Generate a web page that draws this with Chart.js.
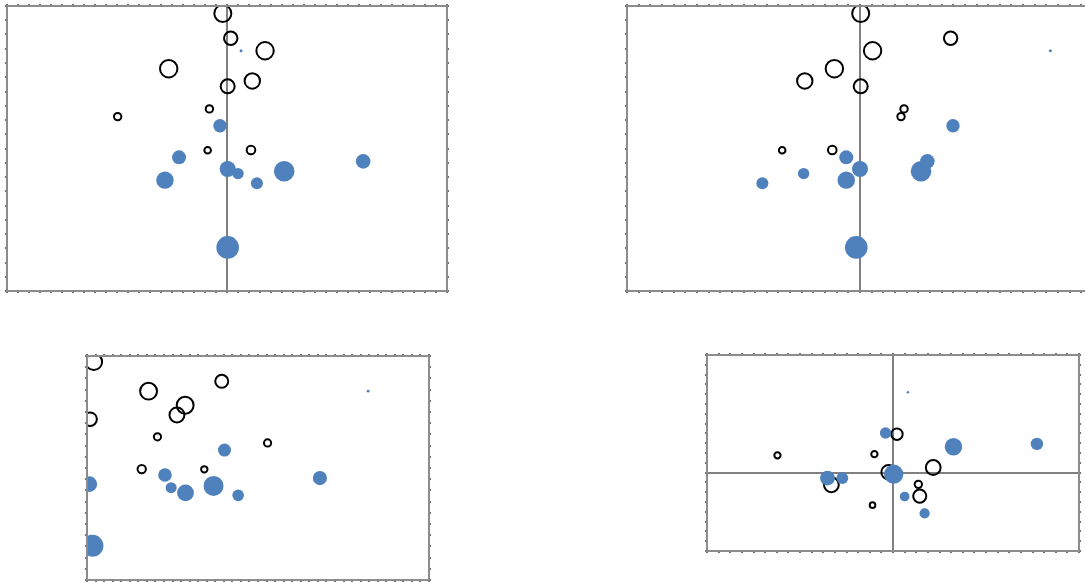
<!DOCTYPE html>
<html>
<head>
<meta charset="utf-8">
<script src="https://cdn.jsdelivr.net/npm/chart.js@4.4.1/dist/chart.umd.min.js"></script>
<style>
  html, body { margin: 0; padding: 0; background: #fff; overflow: hidden; }
  body { width: 1085px; height: 582px; position: relative; }
  canvas { position: absolute; }
</style>
</head>
<body>
<canvas id="c1"></canvas>
<canvas id="c2"></canvas>
<canvas id="c3"></canvas>
<canvas id="c4"></canvas>
<script>
// bubble sizes, same ten points of each group in every plot
var openSize = [8.5, 6.7, 8.7, 8.7, 7.7, 7.0, 3.7, 3.7, 3.3, 4.3];
var filledSize = [1.5, 6.7, 7.0, 8.7, 8.0, 5.7, 6.0, 10.3, 7.3, 11.3];

// vertical value used by plots 1-3
var openY = [9.74, 8.87, 8.43, 7.80, 7.37, 7.18, 6.39, 6.12, 4.94, 4.95];
var filledY = [8.43, 5.80, 4.69, 3.89, 4.28, 4.12, 3.78, 4.20, 4.55, 1.53];

// horizontal value of plot 1 (plot 4 uses it too)
var openX1 = [-0.19, 0.17, 1.73, -2.65, 1.15, 0.03, -0.80, -4.97, -0.88, 1.09];
var filledX1 = [0.64, -0.32, -2.18, -2.82, 0.03, 0.50, 1.36, 2.60, 6.19, 0.03];

// horizontal value of plot 2
var openX2 = [0.03, 3.89, 0.54, -1.10, -2.37, 0.03, 1.89, 1.76, -3.34, -1.19];
var filledX2 = [8.17, 3.99, -0.59, -0.59, 0.00, -2.42, -4.19, 2.62, 2.89, -0.16];

// horizontal value of plot 3
var openX3 = [0.20, 3.94, 1.80, 2.87, 2.63, 0.09, 2.06, 5.28, 3.43, 1.60];
var filledX3 = [8.22, 4.02, 2.28, 2.88, 0.07, 2.46, 4.42, 3.70, 6.81, 0.16];

// vertical value of plot 4
var openY4 = [0.01, 0.98, 0.13, -0.31, -0.60, 0.00, 0.47, 0.44, -0.83, -0.30];
var filledY4 = [2.05, 1.01, -0.14, -0.14, 0.00, -0.61, -1.04, 0.66, 0.73, -0.04];

var TICK = 2;
var FRAME = '#8c8c8c';
var AXIS = '#808080';
var BLUE = '#4f81bd';

var panels = [
    {id: 'c1', box: [7, 6, 447, 291], ox: openX1, oy: openY, fx: filledX1, fy: filledY,
     x: [-10, 10, 0.5], y: [0, 10, 0.5], zeroX: true, zeroY: false, k: 1},
    {id: 'c2', box: [627, 6, 1093, 291], ox: openX2, oy: openY, fx: filledX2, fy: filledY,
     x: [-10, 10, 0.5], y: [0, 10, 0.5], zeroX: true, zeroY: false, k: 1},
    {id: 'c3', box: [87, 356, 428.5, 580], ox: openX3, oy: openY, fx: filledX3, fy: filledY,
     x: [0, 10, 0.25], y: [0, 10, 0.5], zeroX: false, zeroY: false, k: 0.97},
    {id: 'c4', box: [707, 355, 1079.3, 551.3], ox: openX1, oy: openY4, fx: filledX1, fy: filledY4,
     x: [-8, 8, 0.5], y: [-2, 3, 0.25], zeroX: true, zeroY: true, k: 0.85}
];

function points(xs, ys, sizes, k) {
    return xs.map(function (v, i) {
        return {x: v, y: ys[i], r: sizes[i] * k};
    });
}

function axis(pos, range, zeroLine, onArea) {
    return {
        type: 'linear',
        position: pos,
        min: range[0],
        max: range[1],
        ticks: {display: false, stepSize: range[2]},
        grid: {
            drawOnChartArea: onArea,
            drawTicks: true,
            tickLength: TICK,
            tickColor: '#6e6e6e',
            lineWidth: 2,
            color: function (ctx) {
                if (zeroLine && ctx.tick && Math.abs(ctx.tick.value) < 1e-9) return AXIS;
                return 'rgba(0,0,0,0)';
            }
        },
        border: {display: true, color: FRAME, width: 2, z: 1}
    };
}

panels.forEach(function (p) {
    var cv = document.getElementById(p.id);
    var w = p.box[2] - p.box[0] + 2 * TICK;
    var h = p.box[3] - p.box[1] + 2 * TICK;
    cv.width = Math.round(w);
    cv.height = Math.round(h);
    cv.style.left = (p.box[0] - TICK) + 'px';
    cv.style.top = (p.box[1] - TICK) + 'px';

    new Chart(cv, {
        type: 'bubble',
        data: {
            datasets: [
                {
                    data: points(p.fx, p.fy, filledSize, p.k),
                    backgroundColor: BLUE,
                    borderWidth: 0,
                    clip: 0
                },
                {
                    data: points(p.ox, p.oy, openSize, p.k),
                    backgroundColor: 'rgba(255,255,255,0)',
                    borderColor: '#000000',
                    borderWidth: 2,
                    clip: 0
                }
            ]
        },
        options: {
            responsive: false,
            animation: false,
            events: [],
            layout: {padding: 0, autoPadding: false},
            plugins: {legend: {display: false}, tooltip: {enabled: false}},
            scales: {
                x: axis('bottom', p.x, p.zeroX, true),
                y: axis('left', p.y, p.zeroY, true),
                x2: axis('top', p.x, false, false),
                y2: axis('right', p.y, false, false)
            }
        }
    });
});
</script>
</body>
</html>
